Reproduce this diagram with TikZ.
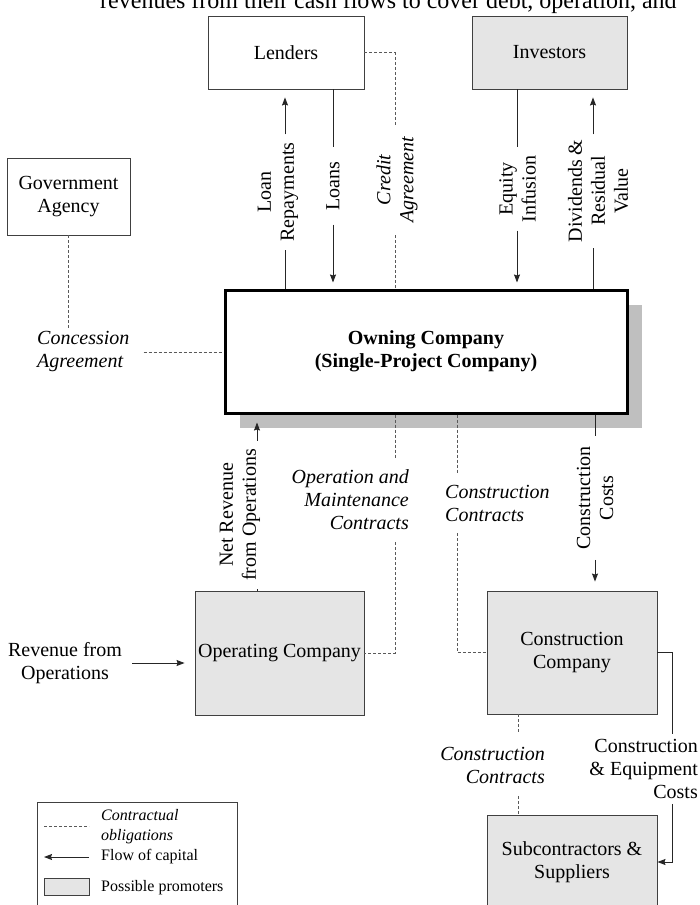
\documentclass[tikz,border=0pt]{standalone}
\usepackage{fontspec}
\setmainfont{Liberation Serif}
\usetikzlibrary{arrows.meta,calc,shadows}
\begin{document}
\begin{tikzpicture}[x=1pt,y=-1pt,
  every node/.style={font=\fontsize{20}{23}\selectfont, inner sep=0pt},
  box/.style={draw=black!75, line width=0.9pt, align=center},
  promo/.style={box, fill=black!10},
  lbl/.style={align=center},
  vlbl/.style={rotate=90, align=center, inner xsep=8pt},
  ilbl/.style={font=\fontsize{20}{23}\selectfont\itshape},
  lgfont/.style={font=\fontsize{16}{20}\selectfont},
  flow/.style={draw=black!85, line width=0.9pt},
  arr/.style={flow, -{Stealth[length=8pt,width=6pt,inset=1pt]}},
  contract/.style={draw=black!65, line width=0.7pt, dash pattern=on 3pt off 2pt},
]
\useasboundingbox (0,0) rectangle (700,905);

% cut-off text line at top
\node[font=\fontsize{24}{28}\selectfont, anchor=base west] (toptext) at (100,8) {revenues from their cash flows to cover debt, operation, and};

% boxes
\node[box, minimum width=156pt, minimum height=73pt] (lenders) at (286,52.5) {Lenders};
\node[promo, minimum width=155pt, minimum height=73pt] (investors) at (549.5,52.5) {Investors};
\node[box, minimum width=123pt, minimum height=77pt] (gov) at (68.5,196.5) {Government\\Agency};
\node[box, draw=black, fill=white, line width=3pt, minimum width=402pt, minimum height=123pt,
      font=\fontsize{20}{23}\selectfont\bfseries,
      drop shadow={shadow xshift=15pt, shadow yshift=-15pt, opacity=1, fill=black!25}]
      (owning) at (426,351.5) {Owning Company\\(Single-Project Company)};
\node[promo, minimum width=169pt, minimum height=124pt] (operating) at (279.5,653) {Operating Company};
\node[promo, minimum width=170pt, minimum height=123pt] (construction) at (572,652.5) {Construction\\Company};
\node[promo, minimum width=170pt, minimum height=94pt] (subc) at (572,862) {Subcontractors \&\\Suppliers};

% x positions of connectors
\coordinate (xA) at (285,0);
\coordinate (xB) at (333,0);
\coordinate (xC) at (395,0);
\coordinate (xD) at (517,0);
\coordinate (xE) at (593,0);
\coordinate (xF) at (257,0);
\coordinate (xG) at (395,0);
\coordinate (xH) at (457,0);
\coordinate (xI) at (595,0);
\coordinate (xJ) at (672,0);
\coordinate (xK) at (518,0);

% government / concession
\node[ilbl, align=left, anchor=west, inner ysep=4pt] (conc) at (37,352) {Concession\\Agreement};
\draw[contract] (gov.south) -- (gov.south |- conc.north);
\draw[contract, shorten <=14pt] (conc.east) -- (conc.east -| owning.west);

% lenders
\node[vlbl] (loanrep) at (278,192) {Loan\\Repayments};
\draw[flow] (owning.north -| xA) -- (xA |- loanrep.west);
\draw[arr, shorten >=8pt] (xA |- loanrep.east) -- (lenders.south -| xA);

\node[vlbl, inner xsep=14pt] (loans) at (333,186) {Loans};
\draw[flow] (lenders.south -| xB) -- (xB |- loans.east);
\draw[arr, shorten >=6pt] (xB |- loans.west) -- (owning.north -| xB);

\node[vlbl, ilbl, inner xsep=12pt] (credit) at (397,180) {Credit\\Agreement};
\draw[contract] (lenders.east) -- (lenders.east -| xC) -- (xC |- credit.east);
\draw[contract] (xC |- credit.west) -- (owning.north -| xC);

% investors
\node[vlbl] (equity) at (517.5,189) {Equity\\Infusion};
\draw[flow] (investors.south -| xD) -- (xD |- equity.east);
\draw[arr, shorten >=6pt] (xD |- equity.west) -- (owning.north -| xD);

\node[vlbl, inner xsep=5pt] (divid) at (598,191) {Dividends \&\\Residual\\Value};
\draw[flow] (owning.north -| xE) -- (xE |- divid.west);
\draw[arr, shorten >=8pt] (xE |- divid.east) -- (investors.south -| xE);

% operating company side
\node[vlbl, inner xsep=8pt] (netrev) at (240,515) {Net Revenue\\from Operations};
\draw[flow] (operating.north -| xF) -- (xF |- netrev.west);
\draw[arr, shorten >=8pt] (xF |- netrev.east) -- (owning.south -| xF);

\node[ilbl, align=right, anchor=east, inner ysep=12pt] (om) at (409,500) {Operation and\\Maintenance\\Contracts};
\draw[contract] (owning.south -| xG) -- (xG |- om.north);
\draw[contract] (xG |- om.south) -- (xG |- operating.east) -- (operating.east);

\node[lbl] (rev) at (65,663) {Revenue from\\Operations};
\draw[arr, shorten <=10pt, shorten >=10pt] (rev.east) -- (rev.east -| operating.west);

% construction side
\node[ilbl, align=left, anchor=west, inner ysep=12pt] (cc1) at (445,503) {Construction\\Contracts};
\draw[contract] (owning.south -| xH) -- (xH |- cc1.north);
\draw[contract] (xH |- cc1.south) -- (xH |- construction.west) -- (construction.west);

\node[vlbl, inner xsep=10pt] (ccost) at (595,498) {Construction\\Costs};
\draw[flow] (owning.south -| xI) -- (xI |- ccost.east);
\draw[arr, shorten >=9pt] (xI |- ccost.west) -- (construction.north -| xI);

\node[lbl, align=right, anchor=east, inner ysep=5pt] (eqcost) at (698,769) {Construction\\\& Equipment\\Costs};
\draw[flow] (construction.east) -- (construction.east -| xJ) -- (xJ |- eqcost.north);
\draw[arr] (xJ |- eqcost.south) -- (xJ |- subc.east) -- (subc.east);

\node[ilbl, align=right, anchor=east, inner ysep=13pt] (cc2) at (545,765) {Construction\\Contracts};
\draw[contract] (construction.south -| xK) -- (xK |- cc2.north);
\draw[contract] (xK |- cc2.south) -- (subc.north -| xK);

% legend
\node[draw=black!75, line width=0.9pt, minimum width=200pt, minimum height=110pt, anchor=north west] (legend) at (37,802) {};
\coordinate (dl) at (44,826);
\coordinate (dr) at (89,826);
\draw[contract] (dl) -- (dr);
\node[lgfont, font=\fontsize{16}{20}\selectfont\itshape, align=left, anchor=west] (lg1) at (101,827) {Contractual\\obligations};
\node[lgfont, anchor=west] (lg2) at (101,857) {Flow of capital};
\draw[arr] ([xshift=-12pt]lg2.west) -- ([xshift=-57pt]lg2.west);
\node[promo, line width=0.8pt, minimum width=45pt, minimum height=17pt] (lgbox) at (67,887) {};
\node[lgfont, anchor=west] (lg3) at (101,888) {Possible promoters};
\end{tikzpicture}
\end{document}
